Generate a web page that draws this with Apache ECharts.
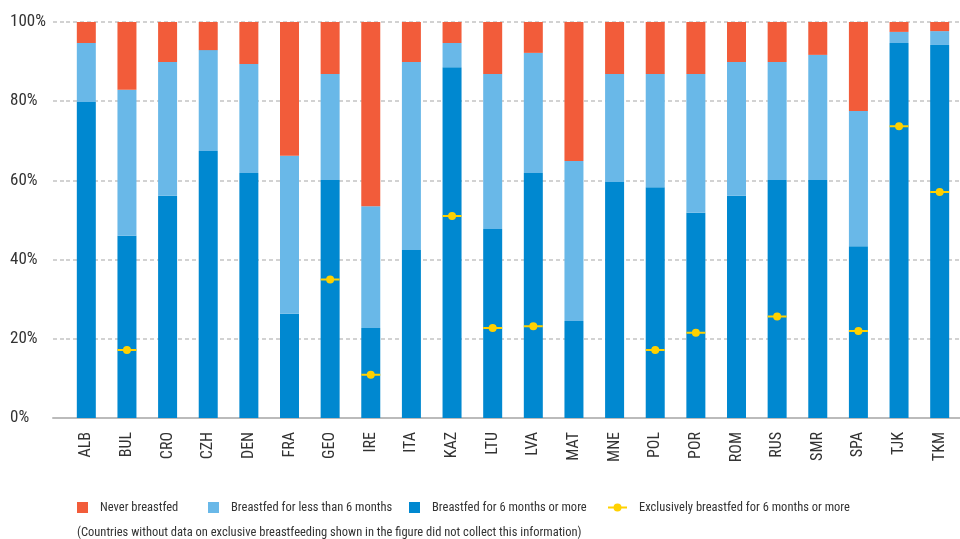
<!DOCTYPE html>
<html>
<head>
<meta charset="utf-8">
<title>Breastfeeding</title>
<script src="https://cdn.jsdelivr.net/npm/echarts@6/dist/echarts.min.js"></script>
<style>
  html, body { margin: 0; padding: 0; background: #fff; }
  #chart { width: 960px; height: 539px; }
</style>
</head>
<body>
<div id="chart"></div>
<script>
const countries = ['ALB', 'BUL', 'CRO', 'CZH', 'DEN', 'FRA', 'GEO', 'IRE', 'ITA', 'KAZ', 'LTU',
  'LVA', 'MAT', 'MNE', 'POL', 'POR', 'ROM', 'RUS', 'SMR', 'SPA', 'TJK', 'TKM']
const sixPlus = [79.8, 46.0, 56.1, 67.4, 61.9, 26.3, 60.1, 22.7, 42.4, 88.6, 47.7,
  61.9, 24.5, 59.6, 58.3, 51.8, 56.1, 60.1, 60.1, 43.4, 94.7, 94.2]
const lessThan6 = [14.9, 36.9, 33.8, 25.5, 27.5, 39.9, 26.8, 30.8, 47.5, 6.1, 39.2,
  30.3, 40.4, 27.3, 28.6, 35.1, 33.8, 29.8, 31.6, 34.1, 2.8, 3.5]
const never = [5.3, 17.1, 10.1, 7.1, 10.6, 33.8, 13.1, 46.5, 10.1, 5.3, 13.1,
  7.8, 35.1, 13.1, 13.1, 13.1, 10.1, 10.1, 8.3, 22.5, 2.5, 2.3]
const exclusive = [null, 17.2, null, null, null, null, 35.0, 10.9, null, 51.0, 22.7,
  23.2, null, null, 17.2, 21.5, null, 25.6, null, 22.0, 73.7, 57.1]
const yTicks = [0, 20, 40, 60, 80, 100]

const names = {
  never: 'Never breastfed',
  less: 'Breastfed for less than 6 months',
  more: 'Breastfed for 6 months or more',
  excl: 'Exclusively breastfed for 6 months or more'
}
const note = '(Countries without data on exclusive breastfeeding shown in the figure did not collect this information)'

const FONT = '"Roboto Condensed", "Liberation Sans Narrow", "DejaVu Sans Condensed", sans-serif'
const LEGEND_SIZE = 12.5
const colors = { never: '#f25c3a', less: '#69b8e8', more: '#0088d0', excl: '#ffd100' }
// short bar + dot (same winding for both parts so the dot is solid)
const exclSymbol = 'path://M0 3H19V5H0Z M5.5 4A4 4 0 1 1 13.5 4A4 4 0 1 1 5.5 4Z'

const gridLine = { lineStyle: { color: '#c4c4c4', width: 1.5, type: [4, 3] } }
const legendText = { fontFamily: FONT, fontSize: LEGEND_SIZE, color: '#333', padding: [0, 0, 0, 7] }

// measure legend labels so the four separate legends sit one after another
const measure = (() => {
  const ctx = document.createElement('canvas').getContext('2d')
  ctx.font = LEGEND_SIZE + 'px ' + FONT
  return s => ctx.measureText(s).width
})()

const legendOrder = [
  { name: names.never, w: 11 },
  { name: names.less, w: 11 },
  { name: names.more, w: 11 },
  { name: names.excl, w: 19 }
]
const legendStarts = [72, 203, 404, 603]
let cursor = 72
const legends = legendOrder.map((it, i) => {
  const left = Math.max(cursor, legendStarts[i])
  cursor = left + it.w + 7 + measure(it.name) + 20
  const isLine = it.w === 19
  return {
    data: [it.name],
    left: left,
    top: 496,
    itemWidth: it.w,
    itemHeight: isLine ? 8 : 11,
    icon: isLine ? exclSymbol : 'rect',
    selectedMode: false,
    textStyle: legendText
  }
})

const chart = echarts.init(document.getElementById('chart'))

const option = {
  animation: false,
  textStyle: { fontFamily: FONT },
  title: {
    text: note,
    left: 72,
    top: 521,
    textStyle: { fontFamily: FONT, fontSize: 12.5, fontWeight: 'normal', color: '#333' }
  },
  legend: legends,
  grid: [
    { left: 66, top: 22, width: 895, height: 396 },
    // stub so the grid lines / axis line start a bit left of the first band
    { left: 53, top: 22, width: 13, height: 396 }
  ],
  xAxis: [
    {
      type: 'category',
      data: countries,
      axisLine: { lineStyle: { color: '#bbb', width: 2 } },
      axisTick: { length: 6, lineStyle: { color: '#aaa', width: 1 } },
      axisLabel: { rotate: 90, margin: 14, fontFamily: FONT, fontSize: 16, color: '#333' }
    },
    {
      gridIndex: 1,
      type: 'value',
      axisLine: { show: true, lineStyle: { color: '#bbb', width: 2 } },
      axisTick: { show: false },
      axisLabel: { show: false },
      splitLine: { show: false }
    }
  ],
  yAxis: [
    {
      type: 'value',
      min: 0,
      max: 100,
      interval: 20,
      axisLine: { show: false },
      axisTick: { show: false },
      axisLabel: {
        align: 'left',
        margin: 56,
        fontFamily: FONT,
        fontSize: 17,
        color: '#333',
        formatter: v => (yTicks.includes(v) ? v + '%' : '')
      },
      splitLine: gridLine
    },
    {
      gridIndex: 1,
      type: 'value',
      min: 0,
      max: 100,
      interval: 20,
      axisLine: { show: false },
      axisTick: { show: false },
      axisLabel: { show: false },
      splitLine: gridLine
    }
  ],
  series: [
    {
      name: names.more,
      type: 'bar',
      stack: 'share',
      barWidth: 19,
      itemStyle: { color: colors.more },
      data: sixPlus
    },
    {
      name: names.less,
      type: 'bar',
      stack: 'share',
      barWidth: 19,
      itemStyle: { color: colors.less },
      data: lessThan6
    },
    {
      name: names.never,
      type: 'bar',
      stack: 'share',
      barWidth: 19,
      itemStyle: { color: colors.never },
      data: never
    },
    {
      name: names.excl,
      type: 'line',
      z: 5,
      symbol: exclSymbol,
      symbolSize: [19, 8],
      showAllSymbol: true,
      connectNulls: false,
      lineStyle: { width: 0, opacity: 0 },
      itemStyle: { color: colors.excl, borderWidth: 0 },
      data: exclusive
    }
  ]
}

chart.setOption(option)

window.addEventListener('resize', () => {
  chart.resize()
})
</script>
</body>
</html>
